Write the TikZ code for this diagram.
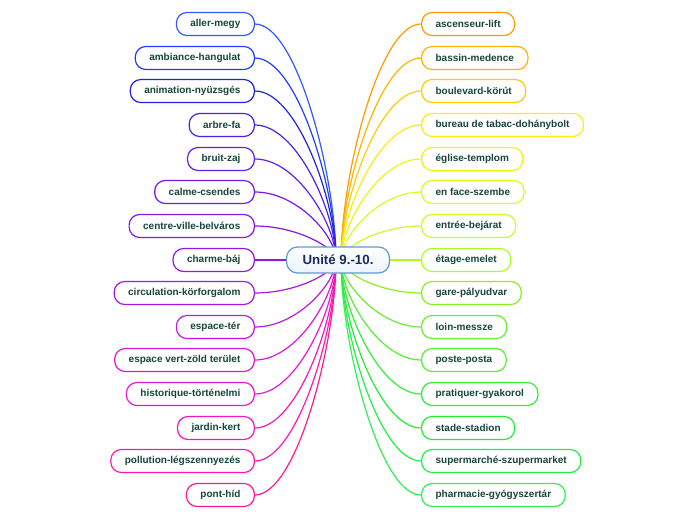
\documentclass[tikz,border=0pt]{standalone}
\usepackage{fontspec}
\setmainfont{Liberation Sans}
\usetikzlibrary{backgrounds}

\definecolor{txt}{HTML}{17463A}
\definecolor{ctrtxt}{HTML}{1A2B5C}
\definecolor{ctrline}{HTML}{5B9BD5}
\definecolor{lA}{HTML}{3358FF}
\definecolor{lB}{HTML}{1F3CFF}
\definecolor{lC}{HTML}{2222DD}
\definecolor{lD}{HTML}{4A22E8}
\definecolor{lE}{HTML}{6020F0}
\definecolor{lF}{HTML}{7418F0}
\definecolor{lG}{HTML}{8418E8}
\definecolor{lH}{HTML}{9418E0}
\definecolor{lI}{HTML}{A818E0}
\definecolor{lJ}{HTML}{C018E0}
\definecolor{lK}{HTML}{D818D8}
\definecolor{lL}{HTML}{E818D0}
\definecolor{lM}{HTML}{F418C0}
\definecolor{lN}{HTML}{FF18B0}
\definecolor{lO}{HTML}{FF1890}
\definecolor{rA}{HTML}{FF9900}
\definecolor{rB}{HTML}{FFB300}
\definecolor{rC}{HTML}{FFCC00}
\definecolor{rD}{HTML}{FFEA11}
\definecolor{rE}{HTML}{EEF511}
\definecolor{rF}{HTML}{DDFA22}
\definecolor{rG}{HTML}{C8FF22}
\definecolor{rH}{HTML}{AAFF22}
\definecolor{rI}{HTML}{88F022}
\definecolor{rJ}{HTML}{66EE33}
\definecolor{rK}{HTML}{55EE33}
\definecolor{rL}{HTML}{33EE33}
\definecolor{rM}{HTML}{22EE33}
\definecolor{rN}{HTML}{22EE44}
\definecolor{rO}{HTML}{33EE55}

\tikzset{
  leaf/.style={draw, fill=white, line width=1.2pt, rounded corners=10.5pt,
    minimum height=23pt, inner xsep=14pt, inner ysep=0pt,
    font=\fontsize{10}{12}\selectfont\bfseries, text=txt},
  lleaf/.style={leaf, anchor=east},
  rleaf/.style={leaf, anchor=west},
  topic/.style={draw=ctrline, line width=1.2pt, rounded corners=11pt,
    top color=white, bottom color=ctrline!12, minimum width=103pt,
    minimum height=26pt, font=\fontsize{13.3}{15}\selectfont\bfseries, text=ctrtxt},
  lnk/.style={line width=1.2pt}
}

\begin{document}
\begin{tikzpicture}[x=1pt, y=-1pt]
            \useasboundingbox (0, 0) rectangle (696, 520);
            \node[topic] (ctr) at (338, 260) {Unité 9.-10.};
            \coordinate (cl) at (336, 260);
            \coordinate (cr) at (341, 260);
            % left side
            \node[lleaf, draw=lA] (aller) at (255, 24) {aller-megy};
            \node[lleaf, draw=lB] (ambiance) at (255, 58) {ambiance-hangulat};
            \node[lleaf, draw=lC] (animation) at (255, 91) {animation-nyüzsgés};
            \node[lleaf, draw=lD] (arbre) at (255, 125) {arbre-fa};
            \node[lleaf, draw=lE] (bruit) at (255, 159) {bruit-zaj};
            \node[lleaf, draw=lF] (calme) at (255, 192) {calme-csendes};
            \node[lleaf, draw=lG] (centre) at (255, 226) {centre-ville-belváros};
            \node[lleaf, draw=lH] (charme) at (255, 260) {charme-báj};
            \node[lleaf, draw=lI] (circulation) at (255, 293) {circulation-körforgalom};
            \node[lleaf, draw=lJ] (espace) at (255, 327) {espace-tér};
            \node[lleaf, draw=lK] (espacevert) at (255, 360) {espace vert-zöld terület};
            \node[lleaf, draw=lL] (historique) at (255, 394) {historique-történelmi};
            \node[lleaf, draw=lM] (jardin) at (255, 428) {jardin-kert};
            \node[lleaf, draw=lN] (pollution) at (255, 461) {pollution-légszennyezés};
            \node[lleaf, draw=lO] (pont) at (255, 495) {pont-híd};
            % right side
            \node[rleaf, draw=rA] (ascenseur) at (421, 24) {ascenseur-lift};
            \node[rleaf, draw=rB] (bassin) at (421, 58) {bassin-medence};
            \node[rleaf, draw=rC] (boulevard) at (421, 91) {boulevard-körút};
            \node[rleaf, draw=rD] (bureau) at (421, 125) {bureau de tabac-dohánybolt};
            \node[rleaf, draw=rE] (eglise) at (421, 159) {église-templom};
            \node[rleaf, draw=rF] (enface) at (421, 192) {en face-szembe};
            \node[rleaf, draw=rG] (entree) at (421, 226) {entrée-bejárat};
            \node[rleaf, draw=rH] (etage) at (421, 260) {étage-emelet};
            \node[rleaf, draw=rI] (gare) at (421, 293) {gare-pályudvar};
            \node[rleaf, draw=rJ] (loin) at (421, 327) {loin-messze};
            \node[rleaf, draw=rK] (poste) at (421, 360) {poste-posta};
            \node[rleaf, draw=rL] (pratiquer) at (421, 394) {pratiquer-gyakorol};
            \node[rleaf, draw=rM] (stade) at (421, 428) {stade-stadion};
            \node[rleaf, draw=rN] (supermarche) at (421, 461) {supermarché-szupermarket};
            \node[rleaf, draw=rO] (pharmacie) at (421, 495) {pharmacie-gyógyszertár};
            \begin{scope}[on background layer]
            \draw[lnk, lA] (cl) .. controls +(0, -83) and +(42, 0) .. (aller.east);
            \draw[lnk, lB] (cl) .. controls +(0, -71) and +(42, 0) .. (ambiance.east);
            \draw[lnk, lC] (cl) .. controls +(0, -59) and +(42, 0) .. (animation.east);
            \draw[lnk, lD] (cl) .. controls +(0, -47) and +(42, 0) .. (arbre.east);
            \draw[lnk, lE] (cl) .. controls +(0, -35) and +(42, 0) .. (bruit.east);
            \draw[lnk, lF] (cl) .. controls +(0, -24) and +(42, 0) .. (calme.east);
            \draw[lnk, lG] (cl) .. controls +(0, -12) and +(42, 0) .. (centre.east);
            \draw[lnk, lH] (cl) -- (charme.east);
            \draw[lnk, lI] (cl) .. controls +(0, 12) and +(42, 0) .. (circulation.east);
            \draw[lnk, lJ] (cl) .. controls +(0, 23) and +(42, 0) .. (espace.east);
            \draw[lnk, lK] (cl) .. controls +(0, 35) and +(42, 0) .. (espacevert.east);
            \draw[lnk, lL] (cl) .. controls +(0, 47) and +(42, 0) .. (historique.east);
            \draw[lnk, lM] (cl) .. controls +(0, 59) and +(42, 0) .. (jardin.east);
            \draw[lnk, lN] (cl) .. controls +(0, 70) and +(42, 0) .. (pollution.east);
            \draw[lnk, lO] (cl) .. controls +(0, 82) and +(42, 0) .. (pont.east);
            \draw[lnk, rA] (cr) .. controls +(0, -83) and +(-42, 0) .. (ascenseur.west);
            \draw[lnk, rB] (cr) .. controls +(0, -71) and +(-42, 0) .. (bassin.west);
            \draw[lnk, rC] (cr) .. controls +(0, -59) and +(-42, 0) .. (boulevard.west);
            \draw[lnk, rD] (cr) .. controls +(0, -47) and +(-42, 0) .. (bureau.west);
            \draw[lnk, rE] (cr) .. controls +(0, -35) and +(-42, 0) .. (eglise.west);
            \draw[lnk, rF] (cr) .. controls +(0, -24) and +(-42, 0) .. (enface.west);
            \draw[lnk, rG] (cr) .. controls +(0, -12) and +(-42, 0) .. (entree.west);
            \draw[lnk, rH] (cr) -- (etage.west);
            \draw[lnk, rI] (cr) .. controls +(0, 12) and +(-42, 0) .. (gare.west);
            \draw[lnk, rJ] (cr) .. controls +(0, 23) and +(-42, 0) .. (loin.west);
            \draw[lnk, rK] (cr) .. controls +(0, 35) and +(-42, 0) .. (poste.west);
            \draw[lnk, rL] (cr) .. controls +(0, 47) and +(-42, 0) .. (pratiquer.west);
            \draw[lnk, rM] (cr) .. controls +(0, 59) and +(-42, 0) .. (stade.west);
            \draw[lnk, rN] (cr) .. controls +(0, 70) and +(-42, 0) .. (supermarche.west);
            \draw[lnk, rO] (cr) .. controls +(0, 82) and +(-42, 0) .. (pharmacie.west);
            \end{scope}
        \end{tikzpicture}
\end{document}
